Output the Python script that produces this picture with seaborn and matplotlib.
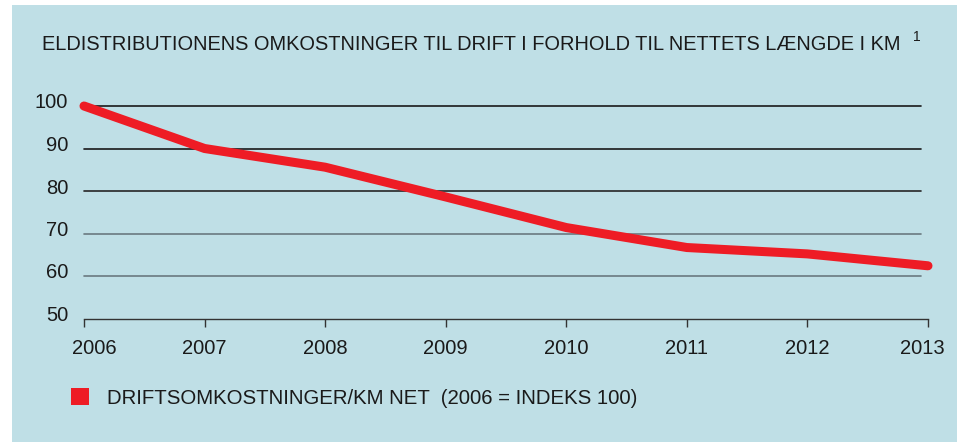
import matplotlib
matplotlib.use("Agg")
import matplotlib.pyplot as plt
import matplotlib.transforms as mtransforms
from matplotlib.patches import Rectangle, Patch
import seaborn as sns
import pandas as pd

# ---- data ----
years = [2006, 2007, 2008, 2009, 2010, 2011, 2012, 2013]
values = [100.0, 90.0, 85.6, 78.6, 71.4, 66.7, 65.2, 62.4]
y_ticks = [50, 60, 70, 80, 90, 100]
title = "ELDISTRIBUTIONENS OMKOSTNINGER TIL DRIFT I FORHOLD TIL NETTETS LÆNGDE I KM"
footnote = "1"
series_label = "DRIFTSOMKOSTNINGER/KM NET  (2006 = INDEKS 100)"

BG = "#BFDFE6"
RED = "#EE1C25"
FONT = "Liberation Sans"

sns.set_theme(style="white")
plt.rcParams["font.family"] = [FONT, "DejaVu Sans"]

W, H = 958, 442
fig = plt.figure(figsize=(W / 100, H / 100), dpi=100, facecolor="white")
fig.patches.append(Rectangle((12 / W, 0), (957 - 12) / W, (H - 5) / H,
                             transform=fig.transFigure, facecolor=BG,
                             edgecolor="none", zorder=-10))

left, right = 84 / W, 928 / W
bottom, top = 1 - 318.5 / H, 1 - 106 / H
ax = fig.add_axes([left, bottom, right - left, top - bottom])
ax.set_facecolor("none")

df = pd.DataFrame({"year": years, "value": values})

# grid lines
grid_colors = {100: "#1a1a1a", 90: "#1a1a1a", 80: "#262626", 70: "#6a7a80", 60: "#6a7a80"}
for yv in y_ticks[1:]:
    ax.axhline(yv, xmin=0, xmax=(921 - 84) / (928 - 84), color=grid_colors[yv],
               linewidth=1.2, zorder=1, clip_on=False)

sns.lineplot(data=df, x="year", y="value", ax=ax, color=RED, linewidth=6.5,
             solid_capstyle="round", solid_joinstyle="round", zorder=3, clip_on=False)

ax.set_xlim(years[0], years[-1])
ax.set_ylim(50, 100)
ax.set_xticks(years)
ax.set_xticklabels([str(y) for y in years])
ax.set_yticks(y_ticks)
ax.set_yticklabels([str(v) for v in y_ticks])
ax.set_xlabel("")
ax.set_ylabel("")

for s in ["top", "right", "left"]:
    ax.spines[s].set_visible(False)
ax.spines["bottom"].set_color("#333333")
ax.spines["bottom"].set_linewidth(1.0)

ax.tick_params(axis="x", direction="out", length=5.5, width=1.0, color="#333333",
               pad=9.5, labelsize=14.5, labelcolor="#1a1a1a")
ax.tick_params(axis="y", length=0, pad=11.5, labelsize=14.5, labelcolor="#1a1a1a")
ax.tick_params(axis="x", bottom=True)

offset = mtransforms.ScaledTranslation(0, 5 / 100, fig.dpi_scale_trans)
for lab in ax.get_yticklabels():
    lab.set_transform(lab.get_transform() + offset)

xlabs = ax.get_xticklabels()
xlabs[0].set_transform(xlabs[0].get_transform() +
                       mtransforms.ScaledTranslation(10 / 100, 0, fig.dpi_scale_trans))
xlabs[-1].set_transform(xlabs[-1].get_transform() +
                        mtransforms.ScaledTranslation(-6 / 100, 0, fig.dpi_scale_trans))

# title
fig.text(42 / W, 1 - 44 / H, title, fontsize=14.45, color="#1a1a1a",
         ha="left", va="center")
fig.text(913 / W, 1 - 37 / H, footnote, fontsize=10, color="#1a1a1a",
         ha="left", va="center")

# legend
handle = Patch(facecolor=RED, edgecolor="none")
fig.legend([handle], [series_label], loc="center left",
           bbox_to_anchor=(63 / W, 1 - 398 / H), frameon=False,
           handlelength=0.9, handleheight=0.9, handletextpad=0.85,
           fontsize=14.65, labelcolor="#1a1a1a", borderaxespad=0)

fig.savefig("out.png", dpi=100, facecolor="white")
